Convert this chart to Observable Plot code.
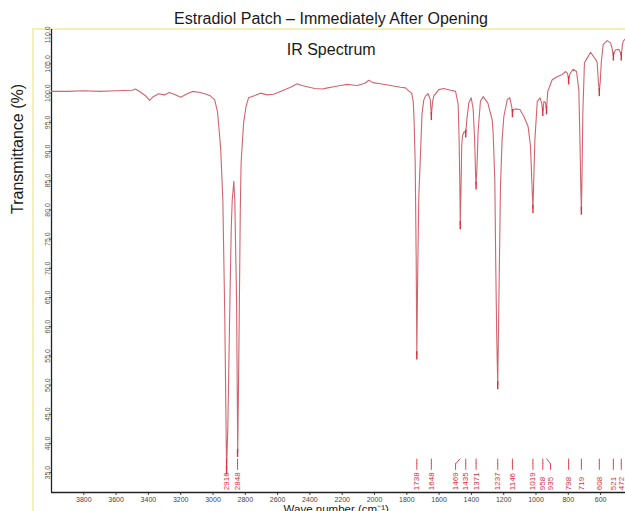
<!DOCTYPE html>
<html>
<head>
<meta charset="utf-8">
<script src="https://cdn.jsdelivr.net/npm/d3@7"></script>
<script src="https://cdn.jsdelivr.net/npm/@observablehq/plot@0.6"></script>
<style>
  html, body { margin: 0; padding: 0; background: #fff; overflow: hidden; width: 625px; height: 511px; }
  body { font-family: "Liberation Sans", Arial, sans-serif; position: relative; }
  #title { box-sizing: border-box; width: 625px; height: 29px; padding: 10px 0 0 37px; line-height: 18px;
           font-size: 16px; text-align: center; color: #1a1a1a; white-space: nowrap; }
  #frame { position: absolute; left: 32px; top: 28px; width: 600px; height: 490px;
           border-top: 2px solid #f4efb8; border-left: 2px solid #f4efb8; pointer-events: none; }
  #chart { position: absolute; left: 0; top: 29px; width: 640px; }
  #chart svg { max-width: none !important; }
</style>
</head>
<body>
<div id="title">Estradiol Patch – Immediately After Opening</div>
<div id="frame"></div>
<div id="chart"></div>
<script>
// ---- data ----
const wavenumbers = [4000,3900,3800,3700,3600,3500,3480,3450,3420,3393,3370,3337,3300,3270,3240,3200,3160,3127,3080,3040,3015,
  2990,2972,2960,2952,2939,2927,2916,2908,2898,2887,2881,2871,2865,2854,2847,2842,2836,2831,2826,2819,2810,2795,2780,
  2740,2706,2664,2625,2582,2520,2479,2450,2417,2370,2324,2290,2252,2210,2169,2140,2107,2060,2035,2010,1963,1900,1839,1808,
  1788,1770,1760,1755,1748,1742,1738,1733,1726,1716,1706,1695,1684,1668,1655,1648,1640,1633,1602,1571,1529,1498,
  1482,1476,1471,1469,1464,1460,1455,1445,1435,1428,1416,1401,1389,1380,1374,1371,1366,1358,1344,1327,1298,1271,
  1265,1255,1249,1243,1237,1232,1227,1220,1210,1199,1178,1162,1150,1146,1140,1127,1100,1075,1049,1034,1026,1019,1014,1007,
  992,975,965,958,951,942,935,927,900,869,838,817,805,798,790,770,749,735,728,722,719,716,710,700,683,662,645,631,621,
  614,608,602,596,584,559,539,530,521,515,508,488,478,472,466,460,446,420,400];
const transmittance = [100.3,100.3,100.4,100.3,100.4,100.5,100.7,100.2,99.6,98.75,99.4,99.9,99.7,100.1,99.8,99.3,99.9,100.3,100.1,99.8,99.5,
  98.9,96.8,93.0,90.2,81.6,61.6,35.5,43.0,60.0,77.0,81.6,84.9,81.6,64.5,38.5,50.0,66.0,80.0,88.0,91.2,95.0,97.8,99.2,
  99.6,100.0,99.7,99.8,100.3,101.0,101.6,101.3,101.1,100.8,100.7,100.9,101.1,101.3,101.5,101.4,101.3,101.7,102.2,101.8,101.6,101.3,101.0,100.9,
  100.4,100.0,98.5,95.5,88.0,72.0,55.2,68.0,82.0,89.0,96.4,98.8,99.5,99.9,98.9,96.2,98.6,99.5,100.6,100.8,100.5,100.3,
  98.1,92.0,83.0,77.5,84.0,91.0,92.7,93.4,93.2,95.5,98.3,99.2,97.2,92.0,86.0,84.3,87.0,93.7,98.6,99.4,98.3,95.4,
  93.0,85.0,70.0,58.0,50.1,60.0,70.0,84.0,92.0,96.0,98.9,99.2,97.6,96.7,97.2,97.3,97.2,96.0,94.3,90.9,85.0,80.3,85.0,92.0,
  98.6,99.2,98.3,96.9,98.6,98.4,97.2,100.3,102.3,102.8,103.2,103.7,103.4,102.3,103.3,104.1,103.7,100.6,92.0,83.0,80.0,84.0,96.6,105.2,106.0,107.0,106.3,105.8,105.2,
  102.0,100.3,102.0,105.2,108.3,109.0,108.6,107.8,106.4,107.0,107.4,107.5,107.0,106.4,108.0,108.9,109.3,109.8,110.2];
const peakWavenumbers = [2916,2848,1738,1648,1469,1435,1371,1237,1146,1019,958,935,798,719,608,521,472];
const xTicks = [3800,3600,3400,3200,3000,2800,2600,2400,2200,2000,1800,1600,1400,1200,1000,800,600,400];
const yTicks = [35,40,45,50,55,60,65,70,75,80,85,90,95,100,105,110];

// ---- build tables ----
const spectrum = wavenumbers.map((wn, i) => ({wn, t: transmittance[i]}));
const labelNudge = {1469: 29, 935: -25};
const peaks = peakWavenumbers.map(wn => {
  const near = spectrum.reduce((a, b) => Math.abs(b.wn - wn) < Math.abs(a.wn - wn) ? b : a);
  return {wn, t: near.t, lx: wn + (labelNudge[wn] || 0)};
});

const xDomain = [4000, 400];
const yDomain = [31.6, 110.9];
const lineRed = "#d2646d";
const labelRed = "#dc2f3c";
const font = "Liberation Sans, Arial, sans-serif";

const chart = Plot.plot({
  width: 640, height: 482,
  marginLeft: 51, marginRight: 7.6, marginTop: 0, marginBottom: 19,
  style: {fontFamily: font, background: "transparent", overflow: "visible", maxWidth: "none"},
  x: {domain: xDomain, axis: null},
  y: {domain: yDomain, axis: null},
  marks: [
    Plot.axisX({ticks: xTicks, tickFormat: d => String(d), fontSize: 7, tickSize: 3, tickPadding: 2, color: "#444", label: null}),
    Plot.axisY({ticks: yTicks, tickFormat: d => d.toFixed(1), fontSize: 7, tickSize: 2, tickPadding: 0, tickRotate: -90, color: "#555", label: null}),
    Plot.ruleX([xDomain[0]], {stroke: "#222", strokeWidth: 1.3}),
    Plot.ruleY([yDomain[0]], {stroke: "#222", strokeWidth: 1.3}),
    Plot.line(spectrum, {x: "wn", y: "t", stroke: lineRed, strokeWidth: 1.1}),
    Plot.ruleX(peaks, {x: "wn", y1: d => d.t + 0.5, y2: d => d.t - 0.9, stroke: labelRed, strokeWidth: 1.4}),
    Plot.link(peaks, {x1: "wn", y1: () => 37.4, x2: "lx", y2: () => 36.5, stroke: labelRed, strokeWidth: 0.9}),
    Plot.ruleX(peaks, {x: "lx", y1: () => 36.5, y2: () => 35.4, stroke: labelRed, strokeWidth: 0.9}),
    Plot.text(peaks, {x: "lx", y: () => 32.0, text: d => String(d.wn), rotate: -90, textAnchor: "start",
      fontSize: 8, fill: labelRed}),
    Plot.text(["IR Spectrum"], {frameAnchor: "top", dy: 14, dx: -11, fontSize: 16, fill: "#1a1a1a"}),
    Plot.text(["Transmittance (%)"], {frameAnchor: "left", dx: -34, dy: -47, rotate: -90, fontSize: 16, fill: "#1a1a1a"}),
    Plot.text(["Wave number (cm⁻¹)"], {frameAnchor: "bottom", dy: 12, dx: -6, lineAnchor: "top", fontSize: 11.5, fill: "#1a1a1a"})
  ]
});
document.getElementById("chart").appendChild(chart);
</script>
</body>
</html>
